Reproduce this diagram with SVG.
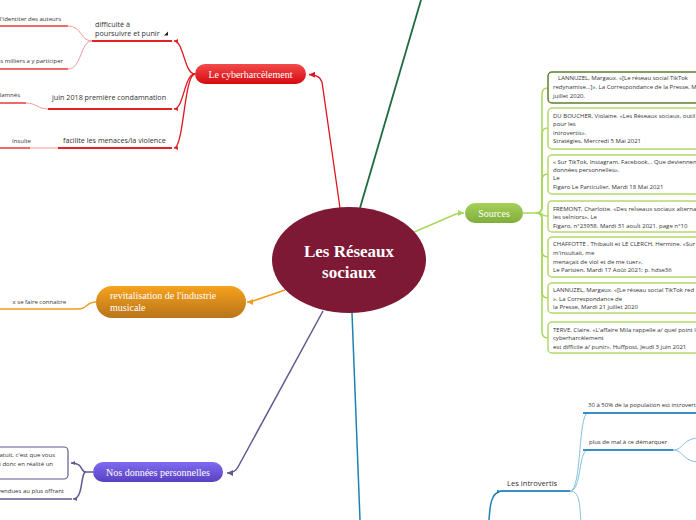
<svg xmlns="http://www.w3.org/2000/svg" width="696" height="520" viewBox="0 0 696 520">
<defs>
<style>
.t{font-family:"Open Sans","DejaVu Sans",sans-serif;fill:#333}
.c1{font-size:7.2px}
.c2{font-size:6px}
.src{font-family:"Open Sans","DejaVu Sans",sans-serif;font-size:6px;fill:#333}
.mt{font-family:"Liberation Serif","DejaVu Serif",serif;font-size:10px;fill:#fff}
.box{fill:#fff;stroke:#b5d96a;stroke-width:1.5}
.ln{fill:none}
.red{stroke:#e0141e;stroke-width:1.3}
.redU{stroke:#e52222;stroke-width:2}
.redL{stroke:#f29a9a;stroke-width:1}
.redS{stroke:#e63a3a;stroke-width:1.5}
.org{stroke:#f29a1c;stroke-width:1.5}
.pur{stroke:#645891;stroke-width:1.5}
.blu{stroke:#1f80b2;stroke-width:1.5}
.bluU{stroke:#3a8ec2;stroke-width:2.2}
.bluL{stroke:#86bfdf;stroke-width:1}
.grn{stroke:#a8d85a;stroke-width:1.5}
.dgr{stroke:#1e6b3e;stroke-width:1.8}
</style>
<linearGradient id="gRed" x1="0" y1="0" x2="0" y2="1"><stop offset="0" stop-color="#f34a4a"/><stop offset="1" stop-color="#d70a10"/></linearGradient>
<linearGradient id="gOrg" x1="0" y1="0" x2="0" y2="1"><stop offset="0" stop-color="#f6a21e"/><stop offset="1" stop-color="#b8741a"/></linearGradient>
<linearGradient id="gPur" x1="0" y1="0" x2="0" y2="1"><stop offset="0" stop-color="#7f6cf0"/><stop offset="1" stop-color="#5940c2"/></linearGradient>
<linearGradient id="gGrn" x1="0" y1="0" x2="0" y2="1"><stop offset="0" stop-color="#a6d05a"/><stop offset="1" stop-color="#7fae3a"/></linearGradient>
<marker id="aRed" viewBox="0 0 10 10" refX="10" refY="5" markerWidth="6" markerHeight="6" markerUnits="userSpaceOnUse" orient="auto"><path d="M0,0 L10,5 L0,10 z" fill="#e0141e"/></marker>
<marker id="aRedS" viewBox="0 0 10 10" refX="10" refY="5" markerWidth="4" markerHeight="4" markerUnits="userSpaceOnUse" orient="auto"><path d="M0,0 L10,5 L0,10 z" fill="#e52222"/></marker>
<marker id="aOrg" viewBox="0 0 10 10" refX="10" refY="5" markerWidth="6" markerHeight="6" markerUnits="userSpaceOnUse" orient="auto"><path d="M0,0 L10,5 L0,10 z" fill="#f29a1c"/></marker>
<marker id="aPur" viewBox="0 0 10 10" refX="10" refY="5" markerWidth="6" markerHeight="6" markerUnits="userSpaceOnUse" orient="auto"><path d="M0,0 L10,5 L0,10 z" fill="#645891"/></marker>
<marker id="aPurS" viewBox="0 0 10 10" refX="10" refY="5" markerWidth="4" markerHeight="4" markerUnits="userSpaceOnUse" orient="auto"><path d="M0,0 L10,5 L0,10 z" fill="#645891"/></marker>
<marker id="aGrn" viewBox="0 0 10 10" refX="10" refY="5" markerWidth="6" markerHeight="6" markerUnits="userSpaceOnUse" orient="auto"><path d="M0,0 L10,5 L0,10 z" fill="#a8d85a"/></marker>
<marker id="aBluS" viewBox="0 0 10 10" refX="10" refY="5" markerWidth="4" markerHeight="4" markerUnits="userSpaceOnUse" orient="auto"><path d="M0,0 L10,5 L0,10 z" fill="#1f80b2"/></marker>
</defs>
<rect width="696" height="520" fill="#fff"/>

<g id="connectors">
<path class="ln dgr" d="M360,208 L421,0"/>
<path class="ln red" d="M340,208 L322,82 Q320,75 309,74.5" marker-end="url(#aRed)"/>
<path class="ln grn" d="M412,233 L456,214 Q459,213 464,213" marker-end="url(#aGrn)"/>
<path class="ln org" d="M285,290 L256,300 Q252,302 247,302" marker-end="url(#aOrg)"/>
<path class="ln pur" d="M323,311 L238,467 Q235,473 227,473" marker-end="url(#aPur)"/>
<path class="ln blu" d="M352,313 L360,520"/>
<path class="ln red" d="M195,74 C184,74 184,41 174,41" marker-end="url(#aRedS)"/>
<path class="ln red" d="M195,74 C184,74 184,109 174,109" marker-end="url(#aRedS)"/>
<path class="ln red" d="M195,74 C184,74 184,148 174,148" marker-end="url(#aRedS)"/>
<path class="ln redU" d="M92,41 L172,41"/>
<path class="ln redU" d="M48,109 L172,109"/>
<path class="ln redU" d="M58,148 L172,148"/>
<path class="ln redL" d="M92,41 C80,41 82,26 68,26"/>
<path class="ln redL" d="M92,41 C80,41 82,69 68,69"/>
<path class="ln redL" d="M48,109 C38,109 36,103 26,103"/>
<path class="ln redL" d="M58,148 L30,148"/>
<path class="ln redS" d="M0,26 L68,26"/>
<path class="ln redS" d="M0,69 L68,69"/>
<path class="ln redS" d="M0,103 L26,103"/>
<path class="ln redS" d="M0,148 L30,148"/>
<path class="ln org" d="M96,302 C86,302 88,309 78,309" stroke-width="1"/>
<path class="ln org" d="M0,309 L78,309"/>
<path class="ln pur" d="M93,472 L86,472 C80,472 84,463 71,463" stroke-width="1.2" marker-end="url(#aPurS)"/>
<path class="ln pur" d="M86,472 C80,472 84,499 73,499" stroke-width="1.2" marker-end="url(#aPurS)"/>
<path class="ln pur" d="M0,499 L72,499" stroke-width="1.2"/>
<path class="ln grn" d="M523,213 L536,213"/>
<path class="ln grn" d="M536,213 Q542,213 542,207 L542,94 Q542,88 548,88"/>
<path class="ln grn" d="M536,213 Q542,213 542,207 L542,134 Q542,128 548,128"/>
<path class="ln grn" d="M536,213 Q542,213 542,207 L542,180 Q542,174 548,174"/>
<path class="ln grn" d="M536,213 Q542,213 542,214 Q542,216 548,216"/>
<path class="ln grn" d="M536,213 Q542,213 542,219 L542,251 Q542,257 548,257"/>
<path class="ln grn" d="M536,213 Q542,213 542,219 L542,292 Q542,298 548,298"/>
<path class="ln grn" d="M536,213 Q542,213 542,219 L542,332 Q542,338 548,338"/>
<path class="ln blu" d="M489,520 C490,505 491,493 501,491" marker-end="url(#aBluS)"/>
<path class="ln bluU" d="M501,491 L570,491"/>
<path class="ln bluL" d="M570,491 C582,491 578,413 588,413"/>
<path class="ln bluL" d="M570,491 C582,491 578,450 588,450"/>
<path class="ln bluL" d="M570,491 C582,491 579,512 582,530"/>
<path class="ln bluU" d="M583,413 L700,413"/>
<path class="ln bluU" d="M583,450 L673,450"/>
<path class="ln bluL" d="M673,450 C684,450 682,438 700,438"/>
<path class="ln bluL" d="M673,450 C684,450 682,462 700,462"/>
</g>

<g id="center">
<ellipse cx="349" cy="260" rx="77" ry="53" fill="#7d1835"/>
<text x="349" y="257" text-anchor="middle" font-family="'Liberation Serif','DejaVu Serif',serif" font-weight="bold" font-size="17" fill="#fff">Les Réseaux</text>
<text x="349" y="278" text-anchor="middle" font-family="'Liberation Serif','DejaVu Serif',serif" font-weight="bold" font-size="17" fill="#fff">sociaux</text>
</g>

<g id="cyber">
<rect x="195" y="64" width="111" height="20" rx="10" fill="url(#gRed)"/>
<text class="mt" x="250.5" y="77.5" text-anchor="middle">Le cyberharcèlement</text>
</g>
<g id="cyber-difficulte">
<text class="t c1" x="95" y="27">difficulté à</text>
<text class="t c1" x="95" y="36">poursuivre et punir</text>
<polygon points="164,35.5 168,35.5 168,31.5" fill="#222"/>
</g>
<g id="cyber-juin"><text class="t c1" x="52" y="100">juin 2018 première condamnation</text></g>
<g id="cyber-facilite"><text class="t c1" x="63" y="143">facilite les menaces/la violence</text></g>
<g id="sub-identite"><text class="t c2" x="61" y="21" text-anchor="end">l'identiter des auteurs</text></g>
<g id="sub-milliers"><text class="t c2" x="63" y="63" text-anchor="end">s milliers a y participer</text></g>
<g id="sub-condamnes"><text class="t c2" x="20" y="97" text-anchor="end">lamnés</text></g>
<g id="sub-insulte"><text class="t c2" x="12" y="143">Insulte</text></g>

<g id="musique">
<rect x="96" y="286" width="150" height="32" rx="16" fill="url(#gOrg)"/>
<text class="mt" x="110" y="299">revitalisation de l'industrie</text>
<text class="mt" x="110" y="311">musicale</text>
</g>
<g id="musique-connaitre"><text class="t c2" x="66" y="304" text-anchor="end">x se faire connaitre</text></g>

<g id="donnees">
<rect x="93" y="462" width="130" height="20" rx="10" fill="url(#gPur)"/>
<text class="mt" x="158" y="475.5" text-anchor="middle">Nos données personnelles</text>
</g>
<g id="donnees-gratuit">
<rect x="-60" y="447" width="128" height="32" rx="4" fill="#fff" stroke="#645891" stroke-width="1.2"/>
<text class="t c2" x="55" y="457" text-anchor="end">atuit, c'est que vous</text>
<text class="t c2" x="53" y="466" text-anchor="end">i donc en réalité un</text>
</g>
<g id="donnees-vendues"><text class="t c2" x="64" y="493" text-anchor="end">vendues au plus offrant</text></g>

<g id="sources">
<rect x="465" y="203" width="58" height="20" rx="10" fill="url(#gGrn)"/>
<text class="mt" x="494" y="216.5" text-anchor="middle">Sources</text>
</g>
<g id="src1">
<rect x="548" y="72" width="160" height="31" rx="4" fill="#fff" stroke="#5e7f2e" stroke-width="1.5"/>
<text class="src" x="558" y="80">LANNUZEL, Margaux. «[Le réseau social TikTok</text>
<text class="src" x="553" y="89">redynamise...]». La Correspondance de la Presse, M</text>
<text class="src" x="553" y="98">juillet 2020.</text>
</g>
<g id="src2">
<rect class="box" x="548" y="108" width="160" height="41" rx="4"/>
<text class="src" x="553" y="118">DU BOUCHER, Violaine. «Les Réseaux sociaux, outil</text>
<text class="src" x="553" y="126">pour les</text>
<text class="src" x="553" y="135">introvertis».</text>
<text class="src" x="553" y="143">Stratégies, Mercredi 5 Mai 2021</text>
</g>
<g id="src3">
<rect class="box" x="548" y="155" width="160" height="39" rx="4"/>
<text class="src" x="553" y="164">« Sur TikTok, Instagram, Facebook... Que deviennent</text>
<text class="src" x="553" y="172">données personnelles».</text>
<text class="src" x="553" y="180">Le</text>
<text class="src" x="553" y="189">Figaro Le Particulier, Mardi 18 Mai 2021</text>
</g>
<g id="src4">
<rect class="box" x="548" y="201" width="160" height="31" rx="4"/>
<text class="src" x="553" y="211">FREMONT, Charlotte. «Des reÌseaux sociaux alterna</text>
<text class="src" x="553" y="219">les seÌniors», Le</text>
<text class="src" x="553" y="228">Figaro, n°23958. Mardi 31 aouÌt 2021. page n°10</text>
</g>
<g id="src5">
<rect class="box" x="548" y="237" width="160" height="40" rx="4"/>
<text class="src" x="553" y="246">CHAFFOTTE , Thibault et LE CLERCH, Hermine. «Sur</text>
<text class="src" x="553" y="255">m'insultait, me</text>
<text class="src" x="553" y="264">menaçait de viol et de me tuer».</text>
<text class="src" x="553" y="272">Le Parisien, Mardi 17 Août 2021; p. hdse36</text>
</g>
<g id="src6">
<rect class="box" x="548" y="283" width="160" height="30" rx="4"/>
<text class="src" x="553" y="292">LANNUZEL, Margaux. «[Le réseau social TikTok red</text>
<text class="src" x="553" y="301">». La Correspondance de</text>
<text class="src" x="553" y="309">la Presse, Mardi 21 juillet 2020</text>
</g>
<g id="src7">
<rect class="box" x="548" y="322" width="160" height="31" rx="4"/>
<text class="src" x="553" y="332">TERVE, Claire. «L'affaire Mila rappelle a/ quel point le</text>
<text class="src" x="553" y="340">cyberharcèlement</text>
<text class="src" x="553" y="349">est difficile a/ punir». Huffpost, Jeudi 3 juin 2021</text>
</g>

<g id="introvertis"><text class="t" font-size="7.6" x="507" y="486">Les introvertis</text></g>
<g id="intro-pop"><text class="t c2" x="588" y="407">30 à 50% de la population est introverti</text></g>
<g id="intro-mal"><text class="t c2" x="589" y="444">plus de mal à ce démarquer</text></g>
</svg>
